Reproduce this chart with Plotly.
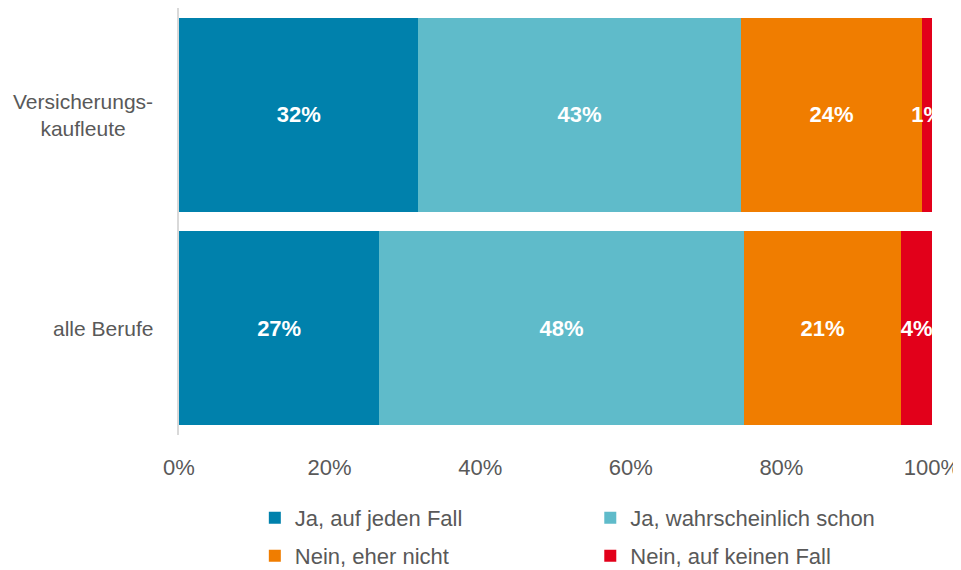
import plotly.graph_objects as go

categories = ["alle Berufe", "Versicherungskaufleute"]
cat_labels = ["alle Berufe", "Versicherungs-<br>kaufleute"]
series_names = ["Ja, auf jeden Fall", "Ja, wahrscheinlich schon",
                "Nein, eher nicht", "Nein, auf keinen Fall"]
ja_auf_jeden_fall = [26.6, 31.8]
ja_wahrscheinlich = [48.4, 42.8]
nein_eher_nicht = [20.9, 24.1]
nein_auf_keinen = [4.1, 1.3]
tick_vals = [0, 20, 40, 60, 80, 100]
tick_text = ["0%", "20%", "40%", "60%", "80%", "100%"]

colors = ["#0081AC", "#5FBBCA", "#F07D00", "#E2001A"]
series = [ja_auf_jeden_fall, ja_wahrscheinlich, nein_eher_nicht, nein_auf_keinen]

FONT = "Liberation Sans Narrow, Arial Narrow, Liberation Sans, Arial"
GREY = "#595959"
SIZE = 22

# one legend per entry so the 2x2 grid sits where the original has it
legend_ids = ["legend2", "legend3", "legend4", "legend5"]
legend_pos = [(0.259, 0.0925), (0.611, 0.0925), (0.259, 0.0249), (0.611, 0.0249)]

fig = go.Figure()
for name, vals, col, lg in zip(series_names, series, colors, legend_ids):
    fig.add_trace(go.Bar(
        y=categories, x=vals, name=name, orientation="h",
        marker=dict(color=col, line=dict(width=0)),
        texttemplate="%{x:.0f}%", textposition="inside", textangle=0,
        insidetextanchor="middle", constraintext="none",
        textfont=dict(family=FONT, size=SIZE, color="white", weight="bold"),
        legend=lg,
    ))

# centred, right-anchored category labels like the original
for cat, lab in zip(categories, cat_labels):
    fig.add_annotation(x=-0.032, xref="paper", y=cat, yref="y", text=lab,
                       showarrow=False, xanchor="right", align="center",
                       font=dict(family=FONT, size=21, color=GREY))

legend_cfg = {}
for lg, (lx, ly) in zip(legend_ids, legend_pos):
    legend_cfg[lg] = dict(orientation="h", x=lx, y=ly, xref="container", yref="container",
                          xanchor="left", yanchor="middle", itemwidth=30,
                          font=dict(family=FONT, size=SIZE, color=GREY))

# page body has an 8px margin, so the figure is 8px smaller than the window
fig.update_layout(
    barmode="stack", bargap=0.09, width=953, height=562,
    margin=dict(l=171, r=29, t=0, b=134.5, pad=0, autoexpand=False),
    plot_bgcolor="white", paper_bgcolor="white",
    font=dict(family=FONT, size=SIZE, color=GREY),
    xaxis=dict(range=[0, 100], tickvals=tick_vals, ticktext=tick_text,
               showgrid=False, zeroline=False, showline=False,
               ticks="", ticklabelstandoff=17,
               tickfont=dict(family=FONT, size=SIZE, color=GREY)),
    yaxis=dict(showticklabels=False, showgrid=False, zeroline=False,
               showline=True, linecolor="#D9D9D9", linewidth=1.5),
    **legend_cfg,
)

fig.write_html("out.html")
